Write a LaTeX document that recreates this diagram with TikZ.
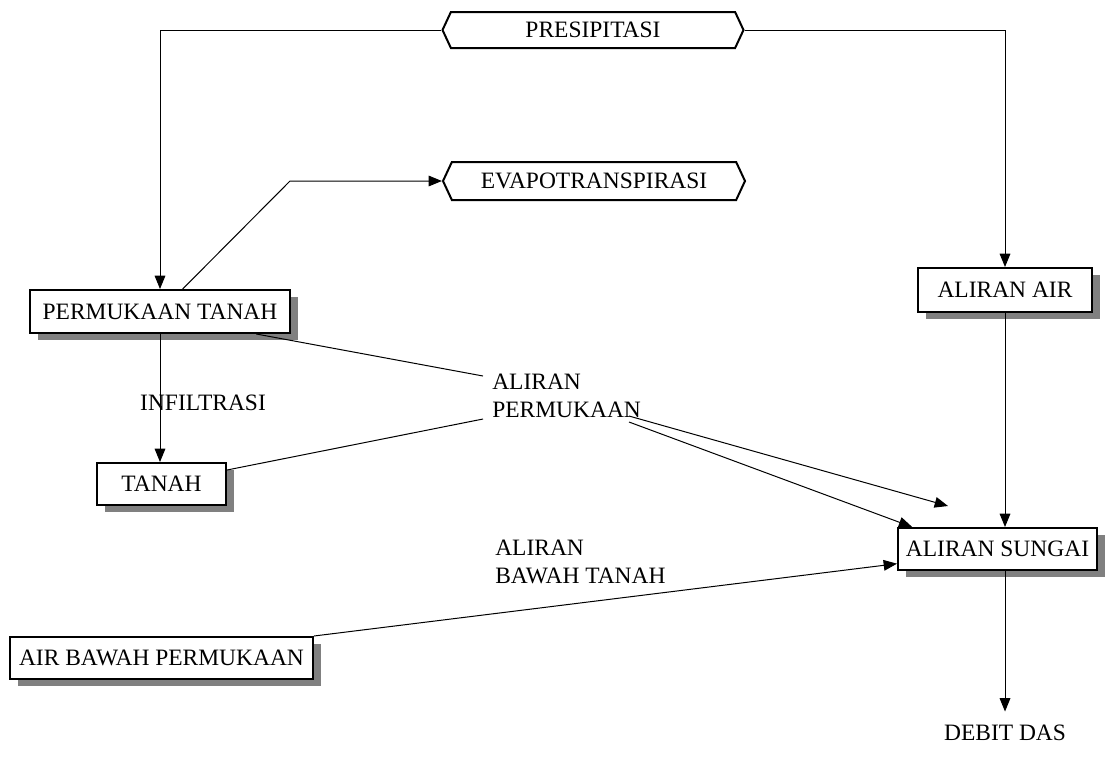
\documentclass[tikz,border=0pt]{standalone}
\usepackage{fontspec}
\setmainfont{Liberation Serif}
\usetikzlibrary{arrows.meta,shapes.symbols,shadows}

\begin{document}
\begin{tikzpicture}[x=0.75pt,y=-0.75pt,
        font=\fontsize{17.6}{21}\selectfont,
        box/.style={shape=rectangle,draw=black,line width=1.5pt,fill=white,inner sep=0pt,
            drop shadow={shadow xshift=6pt,shadow yshift=-5.5pt,fill=black!50,opacity=1}},
        hexa/.style={shape=signal,signal to=west and east,signal pointer angle=130,
            draw=black,line width=1.5pt,fill=white,inner sep=0pt},
        arr/.style={-{Triangle[length=10pt,width=8pt]},line width=0.75pt}]
        \useasboundingbox (0,0) rectangle (1112,758);

        \node[hexa,minimum width=225.75pt,minimum height=27pt]   (presip) at (593,30) {PRESIPITASI};
        \node[hexa,minimum width=226.5pt,minimum height=28.5pt]  (evapo)  at (594,181) {EVAPOTRANSPIRASI};
        \node[box,minimum width=195pt,minimum height=32.25pt]    (ptanah) at (160,311.5) {PERMUKAAN TANAH};
        \node[box,minimum width=130.5pt,minimum height=33pt]     (alair)  at (1005,290) {ALIRAN AIR};
        \node[box,minimum width=96.75pt,minimum height=31.5pt]   (tanah)  at (161.5,484) {TANAH};
        \node[box,minimum width=149.25pt,minimum height=31.5pt]  (sungai) at (997.5,549) {ALIRAN SUNGAI};
        \node[box,minimum width=227.25pt,minimum height=31.5pt]  (abawah) at (161.5,658) {AIR BAWAH PERMUKAAN};

        \node (infil) at (203,403) {INFILTRASI};
        \node[align=left,anchor=west,inner sep=0pt] (aperm) at (492,396) {ALIRAN\\PERMUKAAN};
        \node[align=left,anchor=west,inner sep=0pt] (abtanah) at (495,562) {ALIRAN\\BAWAH TANAH};
        \node[inner sep=10pt] (debit) at (1005,733) {DEBIT DAS};

        \coordinate (bend) at (290,181);
        \coordinate (ap1) at (483,376);
        \coordinate (ap2) at (483,419);
        \coordinate (ap3) at (629,416);
        \coordinate (ap4) at (629,422);
        \coordinate (free) at (948,506);

        \draw[arr] (presip.west) -| (ptanah.north);
        \draw[arr] (presip.east) -| (alair.north);
        \draw[arr] ([xshift=17pt]ptanah.north) -- (bend) -- (evapo.west);
        \draw[arr] (ptanah.south) -- (ptanah.south |- tanah.north);
        \path [line width=0.75pt](ptanah.south east) ++(-26pt,0) edge (ap1);
        \path [line width=0.75pt]([yshift=10.5pt]tanah.east) edge (ap2);
        \path [arr](ap3) edge (free);
        \path [arr](ap4) edge ([xshift=-64pt]sungai.north);
        \draw[arr] (alair.south) -- (alair.south |- sungai.north);
        \path [arr](abawah.north east) edge ([yshift=-11pt]sungai.west);
        \draw[arr] (debit.north |- sungai.south) -- (debit.north);
    \end{tikzpicture}
\end{document}
